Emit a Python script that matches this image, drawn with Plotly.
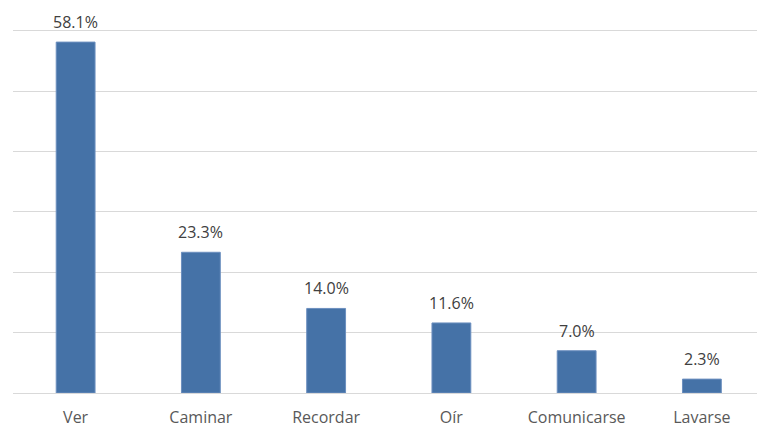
import plotly.graph_objects as go

categories = ["Ver", "Caminar", "Recordar", "Oír", "Comunicarse", "Lavarse"]
values = [58.1, 23.3, 14.0, 11.6, 7.0, 2.3]
labels = ["58.1%", "23.3%", "14.0%", "11.6%", "7.0%", "2.3%"]

fig = go.Figure(go.Bar(
    x=categories, y=values,
    marker=dict(color="#4572A7", line=dict(color="#6C8FBF", width=1)),
    width=0.31, cliponaxis=False,
))
for c, v, t in zip(categories, values, labels):
    fig.add_annotation(x=c, y=v, text=t, showarrow=False, yanchor="bottom",
                       yshift=7, font=dict(size=16, color="#404040", family="Open Sans"))
fig.update_layout(
    width=757, height=438,
    margin=dict(l=13, r=0, t=27, b=45, autoexpand=False),
    plot_bgcolor="white", paper_bgcolor="white",
    showlegend=False,
    font=dict(family="Open Sans", color="#595959", size=16),
)
fig.update_yaxes(range=[0, 60.6], tickvals=[10, 20, 30, 40, 50, 60], showgrid=True, gridcolor="#D9D9D9",
                 gridwidth=1, showticklabels=False, zeroline=True, automargin=False,
                 zerolinecolor="#D9D9D9", zerolinewidth=1)
fig.update_xaxes(range=[-0.5, 5.44], showgrid=False, ticks="", automargin=False,
                 ticklabelstandoff=13,
                 tickfont=dict(size=16, color="#595959"), showline=False)
fig.write_html("out.html", config={"displayModeBar": False},
               post_script="document.body.style.margin='0';")
